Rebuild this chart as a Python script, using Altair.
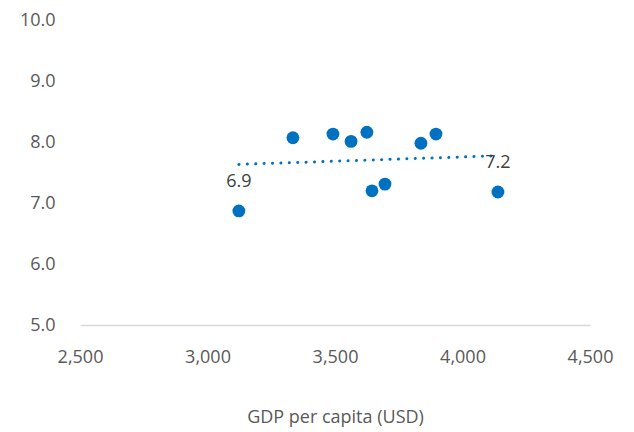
import altair as alt
import pandas as pd

gdp = [3123, 3335, 3492, 3563, 3625, 3645, 3696, 3837, 3896, 4139]
score = [6.87, 8.07, 8.13, 8.01, 8.16, 7.20, 7.31, 7.98, 8.13, 7.18]
labels = ["6.9", "", "", "", "", "", "", "", "", "7.2"]

df = pd.DataFrame({"gdp": gdp, "score": score, "label": labels})

FONT = "Open Sans"
GREY = "#595959"
BLUE = "#0070C0"

x = alt.X("gdp:Q", scale=alt.Scale(domain=[2500, 4500], nice=False, zero=False),
          axis=alt.Axis(values=[2500, 3000, 3500, 4000, 4500], format=",.0f", grid=False,
                        ticks=False, tickSize=0, domainColor="#d9d9d9", domainWidth=1.5,
                        labelFlush=False, labelOverlap=False,
                        labelFontSize=18, labelColor=GREY, labelFont=FONT, labelPadding=23,
                        title="GDP per capita (USD)", titleFontSize=18, titleFont=FONT,
                        titleFontWeight="normal", titleColor=GREY, titlePadding=42))
y = alt.Y("score:Q", scale=alt.Scale(domain=[5, 10], nice=False, zero=False),
          axis=alt.Axis(values=[5, 6, 7, 8, 9, 10], format=".1f", grid=False, ticks=False,
                        tickSize=0, domain=False, labelFontSize=18, labelColor=GREY,
                        labelFont=FONT, labelPadding=25, title=None))

base = alt.Chart(df)

trend = base.transform_regression("gdp", "score").mark_line(
    color=BLUE, strokeWidth=3, strokeCap="round", strokeDash=[0.1, 8.3]
).encode(x=x, y=y)

points = base.mark_circle(size=165, color=BLUE, opacity=1).encode(x=x, y=y)

text = base.transform_filter(alt.datum.label != "").mark_text(
    dy=-29, fontSize=18, font=FONT, color="#404040", baseline="middle"
).encode(x=x, y=y, text="label:N")

chart = alt.layer(trend, points, text).properties(
    width=510, height=305,
    padding={"left": 72, "top": 12, "right": 36, "bottom": 106},
    autosize=alt.AutoSizeParams(type="none"),
).configure_view(stroke=None)

chart.save("out.html", embed_options={"renderer": "svg", "actions": False})
